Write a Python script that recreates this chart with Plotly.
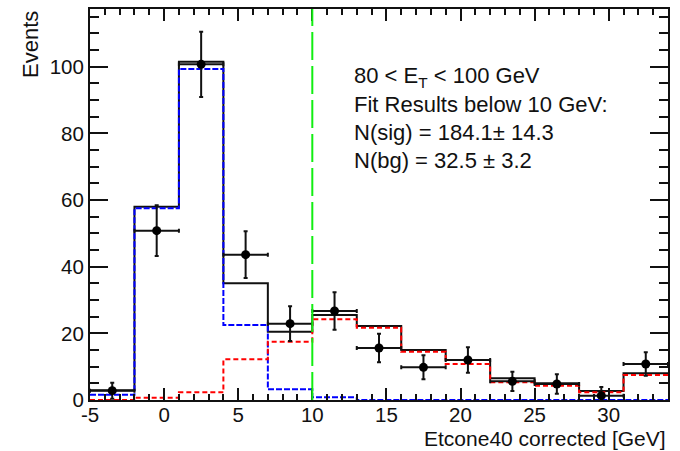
import plotly.graph_objects as go

# ---- data ----
bin_edges = [-5, -2, 1, 4, 7, 10, 13, 16, 19, 22, 25, 28, 31, 34]
total_fit = [2.9, 58.0, 101.5, 35.0, 20.5, 25.5, 22.2, 15.0, 12.0, 6.5, 5.0, 2.7, 8.0]
signal_fit = [1.6, 57.5, 99.3, 22.5, 3.2, 0.8, 0, 0, 0, 0, 0, 0, 0]
background_fit = [0, 0.7, 2.3, 12.2, 17.5, 24.2, 21.7, 14.5, 10.8, 5.3, 4.3, 2.3, 7.5]
data_counts = [2.8, 50.8, 100.7, 43.6, 22.9, 26.7, 15.6, 9.8, 12.0, 5.6, 4.8, 1.3, 10.8]
data_errors = [2.4, 7.6, 9.8, 7.0, 5.2, 5.6, 4.3, 3.6, 3.8, 2.9, 2.9, 2.6, 3.5]
cut_value = 10
x_ticks = [-5, 0, 5, 10, 15, 20, 25, 30]
x_tick_labels = ["-5", "0", "5", "10", "15", "20", "25", "30"]
y_ticks = [0, 20, 40, 60, 80, 100]
y_tick_labels = ["0", "20", "40", "60", "80", "100"]
x_range = [-5, 34]
y_range = [0, 117.3]

info_lines = [
    "80 < E<sub>T</sub> < 100 GeV",
    "Fit Results below 10 GeV:",
    "N(sig) = 184.1\u00b1 14.3",
    "N(bg) = 32.5 \u00b1 3.2",
]

FONT = "Liberation Sans, Arial, Helvetica, sans-serif"
TXT = "#111111"

centers = [(a + b) / 2 for a, b in zip(bin_edges[:-1], bin_edges[1:])]
half_w = [(b - a) / 2 for a, b in zip(bin_edges[:-1], bin_edges[1:])]


def step(vals):
    return list(vals) + [vals[-1]]


fig = go.Figure()
fig.add_trace(go.Scatter(x=bin_edges, y=step(total_fit), mode="lines",
                         line=dict(shape="hv", color="#111111", width=2),
                         showlegend=False, hoverinfo="skip"))
fig.add_trace(go.Scatter(x=bin_edges, y=step(signal_fit), mode="lines",
                         line=dict(shape="hv", color="#0000ff", width=2, dash="6px,2px"),
                         showlegend=False, hoverinfo="skip"))
fig.add_trace(go.Scatter(x=bin_edges, y=step(background_fit), mode="lines",
                         line=dict(shape="hv", color="#ff0000", width=2, dash="5px,3px"),
                         showlegend=False, hoverinfo="skip"))
fig.add_trace(go.Scatter(x=centers, y=data_counts, mode="markers",
                         marker=dict(color="black", size=9, symbol="circle"),
                         error_y=dict(type="data", array=data_errors, color="#111111",
                                      thickness=2, width=2),
                         error_x=dict(type="data", array=half_w, color="#111111",
                                      thickness=2, width=2),
                         showlegend=False, hoverinfo="skip"))

fig.add_shape(type="line", xref="x", yref="y", x0=cut_value, x1=cut_value,
              y0=y_range[0], y1=y_range[1],
              line=dict(color="#11ee11", width=2, dash="28px,6px"))

for i, t in enumerate(info_lines):
    ypix = 75 + 28 * i
    fig.add_annotation(text=t, xref="paper", yref="paper",
                       x=(352 - 90) / 578, y=(400 - ypix) / 393,
                       xanchor="left", yanchor="middle", showarrow=False,
                       font=dict(family=FONT, size=22, color=TXT))

fig.add_annotation(text="Etcone40 corrected [GeV]", xref="paper", yref="paper",
                   x=1.0, y=-(438.6 - 400) / 393, xanchor="right", yanchor="middle",
                   showarrow=False, font=dict(family=FONT, size=21, color=TXT))
fig.add_annotation(text="Events", xref="paper", yref="paper", textangle=-90,
                   x=(30.5 - 90) / 578, y=(400 - 42.7) / 393,
                   xanchor="center", yanchor="middle", showarrow=False,
                   font=dict(family=FONT, size=22, color=TXT))

axis_common = dict(showline=True, linecolor="#111111", linewidth=2, mirror="ticks",
                   ticks="inside", tickcolor="#111111", tickwidth=2,
                   showgrid=False, zeroline=False,
                   tickfont=dict(family=FONT, size=20.5, color=TXT))

fig.update_xaxes(range=x_range, tickvals=x_ticks, ticktext=x_tick_labels, ticklen=12,
                 ticklabelstandoff=-5,
                 minor=dict(dtick=1, tick0=-5, ticks="inside", ticklen=6,
                            tickcolor="#111111", tickwidth=2, showgrid=False),
                 **axis_common)
fig.update_yaxes(range=y_range, tickvals=y_ticks, ticktext=y_tick_labels, ticklen=18,
                 minor=dict(dtick=5, tick0=0, ticks="inside", ticklen=9,
                            tickcolor="#111111", tickwidth=2, showgrid=False),
                 **axis_common)

fig.update_layout(width=680, height=451, margin=dict(l=90, r=12, t=7, b=51),
                  paper_bgcolor="white", plot_bgcolor="white", showlegend=False)

fig.write_html("out.html")
